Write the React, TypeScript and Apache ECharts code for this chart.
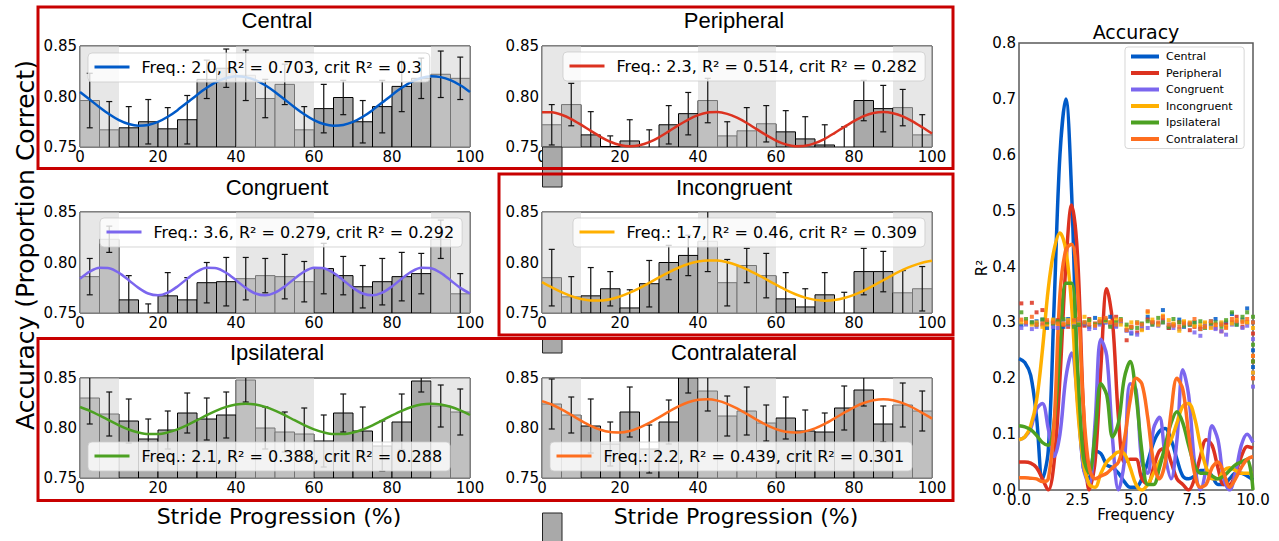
import React, { useEffect, useRef } from "react";
import * as echarts from "echarts";

// ---------- data ----------
const binStarts = [0, 5, 10, 15, 20, 25, 30, 35, 40, 45, 50, 55, 60, 65, 70, 75, 80, 85, 90, 95];
const binWidth = 5;
const shadedSpans = [[0, 10], [40, 60], [90, 100]];
const xTicks = [0, 20, 40, 60, 80, 100];
const yTicks = [0.75, 0.8, 0.85];

const panelTitles = ["Central", "Peripheral", "Congruent", "Incongruent", "Ipsilateral", "Contralateral"];
const fitLabels = [
  "Freq.: 2.0, R² = 0.703, crit R² = 0.3",
  "Freq.: 2.3, R² = 0.514, crit R² = 0.282",
  "Freq.: 3.6, R² = 0.279, crit R² = 0.292",
  "Freq.: 1.7, R² = 0.46, crit R² = 0.309",
  "Freq.: 2.1, R² = 0.388, crit R² = 0.288",
  "Freq.: 2.2, R² = 0.439, crit R² = 0.301",
];
const colors = ["#005ac8", "#dc3220", "#7b66ee", "#ffb000", "#4ca122", "#fe6e1f"];

const centralMean = [0.796, 0.767, 0.769, 0.775, 0.768, 0.777, 0.817, 0.828, 0.821, 0.798, 0.812, 0.767, 0.788, 0.799, 0.775, 0.790, 0.810, 0.818, 0.822, 0.818];
const centralErr = [0.027, 0.028, 0.021, 0.022, 0.021, 0.024, 0.019, 0.019, 0.025, 0.019, 0.020, 0.023, 0.024, 0.017, 0.021, 0.026, 0.025, 0.020, 0.023, 0.021];
const periMean = [0.772, 0.792, 0.762, 0.7505, 0.756, 0.747, 0.772, 0.783, 0.796, 0.761, 0.766, 0.773, 0.765, 0.758, 0.752, 0.749, 0.796, 0.788, 0.789, 0.762];
const periErr = [0.020, 0.021, 0.023, 0.0105, 0.021, 0.020, 0.019, 0.021, 0.022, 0.014, 0.023, 0.018, 0.021, 0.022, 0.020, 0.021, 0.020, 0.023, 0.018, 0.020];
const congMean = [0.786, 0.823, 0.763, 0.747, 0.767, 0.763, 0.780, 0.781, 0.784, 0.787, 0.786, 0.781, 0.794, 0.787, 0.776, 0.781, 0.786, 0.789, 0.823, 0.769];
const congErr = [0.018, 0.013, 0.024, 0.012, 0.023, 0.022, 0.020, 0.024, 0.021, 0.017, 0.022, 0.020, 0.025, 0.019, 0.021, 0.023, 0.024, 0.020, 0.019, 0.020];
const incMean = [0.785, 0.766, 0.767, 0.774, 0.755, 0.779, 0.800, 0.807, 0.821, 0.780, 0.797, 0.787, 0.764, 0.756, 0.768, 0.750, 0.791, 0.791, 0.770, 0.774];
const incErr = [0.028, 0.020, 0.028, 0.017, 0.018, 0.023, 0.017, 0.020, 0.030, 0.023, 0.017, 0.022, 0.026, 0.018, 0.022, 0.0205, 0.023, 0.020, 0.022, 0.022];
const ipsiMean = [0.830, 0.814, 0.807, 0.789, 0.798, 0.815, 0.809, 0.813, 0.848, 0.800, 0.796, 0.794, 0.787, 0.815, 0.797, 0.782, 0.806, 0.847, 0.822, 0.816];
const ipsiErr = [0.026, 0.022, 0.022, 0.020, 0.019, 0.020, 0.021, 0.023, 0.022, 0.021, 0.020, 0.026, 0.026, 0.019, 0.024, 0.025, 0.028, 0.011, 0.021, 0.023];
const contMean = [0.824, 0.813, 0.802, 0.784, 0.816, 0.779, 0.806, 0.852, 0.837, 0.812, 0.817, 0.805, 0.810, 0.797, 0.796, 0.820, 0.838, 0.804, 0.823, 0.817];
const contErr = [0.025, 0.018, 0.027, 0.022, 0.025, 0.024, 0.022, 0.017, 0.020, 0.020, 0.024, 0.018, 0.021, 0.021, 0.019, 0.022, 0.016, 0.018, 0.022, 0.020];

const fitX = [0, 2.5, 5, 7.5, 10, 12.5, 15, 17.5, 20, 22.5, 25, 27.5, 30, 32.5, 35, 37.5, 40, 42.5, 45, 47.5, 50, 52.5, 55, 57.5, 60, 62.5, 65, 67.5, 70, 72.5, 75, 77.5, 80, 82.5, 85, 87.5, 90, 92.5, 95, 97.5, 100];
const centralFit = [0.8045, 0.7970, 0.7894, 0.7824, 0.7766, 0.7727, 0.7710, 0.7718, 0.7748, 0.7799, 0.7865, 0.7940, 0.8016, 0.8086, 0.8144, 0.8183, 0.8200, 0.8192, 0.8162, 0.8111, 0.8045, 0.7970, 0.7894, 0.7824, 0.7766, 0.7727, 0.7710, 0.7718, 0.7748, 0.7799, 0.7865, 0.7940, 0.8016, 0.8086, 0.8144, 0.8183, 0.8200, 0.8192, 0.8162, 0.8111, 0.8045];
const periFit = [0.7845, 0.7843, 0.7819, 0.7777, 0.7721, 0.7660, 0.7601, 0.7552, 0.7519, 0.7507, 0.7517, 0.7548, 0.7596, 0.7655, 0.7716, 0.7772, 0.7816, 0.7842, 0.7846, 0.7828, 0.7790, 0.7738, 0.7677, 0.7617, 0.7564, 0.7526, 0.7508, 0.7512, 0.7538, 0.7581, 0.7638, 0.7699, 0.7757, 0.7806, 0.7837, 0.7847, 0.7835, 0.7803, 0.7754, 0.7695, 0.7633];
const congFit = [0.7840, 0.7909, 0.7947, 0.7943, 0.7897, 0.7825, 0.7749, 0.7693, 0.7675, 0.7701, 0.7763, 0.7840, 0.7909, 0.7947, 0.7943, 0.7897, 0.7825, 0.7749, 0.7693, 0.7675, 0.7701, 0.7763, 0.7840, 0.7909, 0.7947, 0.7943, 0.7897, 0.7825, 0.7749, 0.7693, 0.7675, 0.7701, 0.7763, 0.7840, 0.7909, 0.7947, 0.7943, 0.7897, 0.7825, 0.7749, 0.7693];
const incFit = [0.7805, 0.7753, 0.7706, 0.7667, 0.7639, 0.7624, 0.7623, 0.7637, 0.7663, 0.7701, 0.7747, 0.7799, 0.7852, 0.7903, 0.7948, 0.7985, 0.8010, 0.8021, 0.8019, 0.8002, 0.7973, 0.7933, 0.7885, 0.7833, 0.7780, 0.7729, 0.7686, 0.7652, 0.7630, 0.7622, 0.7628, 0.7648, 0.7680, 0.7722, 0.7771, 0.7824, 0.7877, 0.7926, 0.7967, 0.7998, 0.8017];
const ipsiFit = [0.8210, 0.8172, 0.8126, 0.8076, 0.8027, 0.7985, 0.7955, 0.7939, 0.7939, 0.7956, 0.7987, 0.8029, 0.8078, 0.8128, 0.8174, 0.8211, 0.8235, 0.8243, 0.8235, 0.8211, 0.8174, 0.8128, 0.8078, 0.8029, 0.7987, 0.7956, 0.7939, 0.7939, 0.7955, 0.7985, 0.8027, 0.8076, 0.8126, 0.8172, 0.8210, 0.8234, 0.8243, 0.8235, 0.8212, 0.8176, 0.8130];
const contFit = [0.8269, 0.8235, 0.8187, 0.8131, 0.8074, 0.8022, 0.7982, 0.7959, 0.7955, 0.7970, 0.8004, 0.8051, 0.8106, 0.8163, 0.8216, 0.8257, 0.8282, 0.8288, 0.8274, 0.8242, 0.8196, 0.8141, 0.8084, 0.8031, 0.7989, 0.7962, 0.7954, 0.7966, 0.7996, 0.8041, 0.8096, 0.8153, 0.8207, 0.8250, 0.8278, 0.8288, 0.8278, 0.8249, 0.8205, 0.8151, 0.8094];

// right panel: R² spectrum vs frequency
const specFreq = [0, 0.25, 0.5, 0.75, 1, 1.25, 1.5, 1.75, 2, 2.25, 2.5, 2.75, 3, 3.25, 3.5, 3.75, 4, 4.25, 4.5, 4.75, 5, 5.25, 5.5, 5.75, 6, 6.25, 6.5, 6.75, 7, 7.25, 7.5, 7.75, 8, 8.25, 8.5, 8.75, 9, 9.25, 9.5, 9.75, 10];
const specCentral = [0.235, 0.228, 0.205, 0.13, 0.02, 0.07, 0.33, 0.60, 0.70, 0.53, 0.20, 0.04, 0.02, 0.07, 0.065, 0.045, 0.04, 0.03, 0.015, 0.005, 0.005, 0.02, 0.05, 0.085, 0.105, 0.11, 0.09, 0.055, 0.025, 0.02, 0.025, 0.035, 0.035, 0.025, 0.01, 0.01, 0.02, 0.03, 0.03, 0.025, 0.018];
const specPeripheral = [0.05, 0.05, 0.048, 0.04, 0.02, 0.0, 0.05, 0.2, 0.4, 0.51, 0.42, 0.15, 0.0, 0.05, 0.22, 0.36, 0.30, 0.13, 0.05, 0.055, 0.055, 0.02, 0.01, 0.04, 0.07, 0.075, 0.05, 0.02, 0.01, 0.0, 0.02, 0.06, 0.09, 0.08, 0.04, 0.01, 0.01, 0.03, 0.06, 0.078, 0.075];
const specCongruent = [0.09, 0.095, 0.11, 0.145, 0.155, 0.11, 0.06, 0.10, 0.20, 0.245, 0.16, 0.04, 0.01, 0.12, 0.27, 0.24, 0.09, 0.0, 0.05, 0.19, 0.18, 0.05, 0.03, 0.11, 0.13, 0.06, 0.02, 0.09, 0.215, 0.17, 0.05, 0.0, 0.04, 0.115, 0.09, 0.02, 0.0, 0.03, 0.08, 0.1, 0.085];
const specIncongruent = [0.09, 0.095, 0.115, 0.16, 0.25, 0.36, 0.43, 0.46, 0.43, 0.33, 0.15, 0.05, 0.01, 0.005, 0.03, 0.05, 0.06, 0.068, 0.065, 0.04, 0.01, 0.0, 0.01, 0.03, 0.05, 0.07, 0.09, 0.12, 0.15, 0.155, 0.13, 0.08, 0.04, 0.02, 0.02, 0.035, 0.04, 0.035, 0.03, 0.03, 0.03];
const specIpsilateral = [0.115, 0.113, 0.108, 0.098, 0.085, 0.08, 0.12, 0.25, 0.37, 0.37, 0.22, 0.06, 0.03, 0.10, 0.19, 0.17, 0.095, 0.12, 0.20, 0.23, 0.17, 0.07, 0.01, 0.01, 0.04, 0.08, 0.12, 0.14, 0.12, 0.08, 0.045, 0.03, 0.03, 0.025, 0.02, 0.025, 0.035, 0.045, 0.05, 0.055, 0.0];
const specContralateral = [0.022, 0.022, 0.021, 0.02, 0.015, 0.02, 0.12, 0.35, 0.43, 0.44, 0.36, 0.15, 0.04, 0.02, 0.025, 0.03, 0.04, 0.05, 0.09, 0.16, 0.2, 0.19, 0.13, 0.05, 0.02, 0.05, 0.14, 0.2, 0.18, 0.1, 0.03, 0.005, 0.01, 0.04, 0.05, 0.03, 0.005, 0.02, 0.04, 0.055, 0.06];

// critical R² (permutation) dots
const critFreq = [0.1, 0.55, 1.0, 1.45, 1.9, 2.35, 2.8, 3.25, 3.7, 4.15, 4.6, 5.05, 5.5, 5.95, 6.4, 6.85, 7.3, 7.75, 8.2, 8.65, 9.1, 9.55];
const critFreq2 = [0.3, 0.75, 1.2, 1.65, 2.1, 2.55, 3.0, 3.45, 3.9, 4.35, 4.8, 5.25, 5.7, 6.15, 6.6, 7.05, 7.5, 7.95, 8.4, 8.85, 9.3, 9.75];
const critCentral = [0.295, 0.300, 0.305, 0.298, 0.292, 0.302, 0.296, 0.308, 0.300, 0.294, 0.286, 0.300, 0.310, 0.298, 0.290, 0.305, 0.296, 0.288, 0.302, 0.298, 0.315, 0.305];
const critPeripheral = [0.334, 0.335, 0.322, 0.302, 0.296, 0.300, 0.294, 0.298, 0.305, 0.310, 0.268, 0.282, 0.305, 0.296, 0.290, 0.300, 0.286, 0.292, 0.298, 0.284, 0.300, 0.292];
const critCongruent = [0.290, 0.288, 0.296, 0.292, 0.302, 0.295, 0.298, 0.290, 0.300, 0.292, 0.285, 0.278, 0.290, 0.294, 0.296, 0.288, 0.298, 0.276, 0.292, 0.284, 0.296, 0.290];
const critIncongruent = [0.300, 0.296, 0.292, 0.305, 0.298, 0.300, 0.310, 0.296, 0.302, 0.305, 0.292, 0.300, 0.318, 0.296, 0.304, 0.285, 0.300, 0.296, 0.290, 0.300, 0.298, 0.302];
const critIpsilateral = [0.318, 0.300, 0.305, 0.298, 0.306, 0.292, 0.300, 0.296, 0.304, 0.300, 0.296, 0.290, 0.302, 0.308, 0.292, 0.300, 0.296, 0.302, 0.298, 0.292, 0.318, 0.310];
const critContralateral = [0.305, 0.310, 0.298, 0.300, 0.296, 0.304, 0.300, 0.294, 0.308, 0.296, 0.286, 0.298, 0.320, 0.300, 0.296, 0.292, 0.298, 0.288, 0.302, 0.296, 0.306, 0.300];
const critCentral2 = [0.298, 0.302, 0.290, 0.300, 0.306, 0.296, 0.292, 0.300, 0.310, 0.302, 0.280, 0.296, 0.300, 0.322, 0.296, 0.292, 0.300, 0.294, 0.306, 0.300, 0.296, 0.325];
const critPeripheral2 = [0.300, 0.318, 0.298, 0.304, 0.292, 0.300, 0.306, 0.300, 0.296, 0.302, 0.292, 0.288, 0.300, 0.305, 0.296, 0.300, 0.292, 0.298, 0.290, 0.296, 0.310, 0.300];
const critCongruent2 = [0.296, 0.292, 0.300, 0.290, 0.296, 0.302, 0.288, 0.296, 0.294, 0.300, 0.282, 0.290, 0.296, 0.300, 0.290, 0.294, 0.282, 0.296, 0.288, 0.278, 0.300, 0.294];
const critIncongruent2 = [0.302, 0.300, 0.296, 0.298, 0.304, 0.298, 0.302, 0.306, 0.300, 0.296, 0.300, 0.286, 0.305, 0.312, 0.298, 0.302, 0.294, 0.300, 0.296, 0.292, 0.304, 0.300];
const critIpsilateral2 = [0.306, 0.296, 0.300, 0.302, 0.298, 0.296, 0.304, 0.300, 0.292, 0.306, 0.290, 0.298, 0.296, 0.300, 0.306, 0.294, 0.300, 0.290, 0.300, 0.304, 0.296, 0.318];
const critContralateral2 = [0.300, 0.296, 0.304, 0.298, 0.300, 0.306, 0.296, 0.302, 0.300, 0.304, 0.292, 0.296, 0.300, 0.310, 0.294, 0.298, 0.306, 0.292, 0.296, 0.290, 0.302, 0.306];
const critEndFreq = 10;
const critEndCentral = [0.30, 0.25, 0.22];
const critEndPeripheral = [0.28, 0.23, 0.20];
const critEndCongruent = [0.27, 0.21, 0.185];
const critEndIncongruent = [0.29, 0.24, 0.21];
const critEndIpsilateral = [0.31, 0.26, 0.23];
const critEndContralateral = [0.30, 0.24, 0.20];

const means = [centralMean, periMean, congMean, incMean, ipsiMean, contMean];
const errs = [centralErr, periErr, congErr, incErr, ipsiErr, contErr];
const fits = [centralFit, periFit, congFit, incFit, ipsiFit, contFit];
const specs = [specCentral, specPeripheral, specCongruent, specIncongruent, specIpsilateral, specContralateral];
const crits = [critCentral, critPeripheral, critCongruent, critIncongruent, critIpsilateral, critContralateral];
const crits2 = [critCentral2, critPeripheral2, critCongruent2, critIncongruent2, critIpsilateral2, critContralateral2];
const critEnds = [critEndCentral, critEndPeripheral, critEndCongruent, critEndIncongruent, critEndIpsilateral, critEndContralateral];

// ---------- layout ----------
const FONT = "DejaVu Sans";
const TFONT = "Liberation Sans";
const grids = [
  { left: 80, top: 46, width: 390, height: 101 },
  { left: 542, top: 46, width: 390, height: 101 },
  { left: 80, top: 212, width: 390, height: 101 },
  { left: 542, top: 212, width: 390, height: 101 },
  { left: 80, top: 378, width: 390, height: 100 },
  { left: 542, top: 378, width: 390, height: 100 },
];
const legendPos = [[88, 53], [563, 52], [100, 218], [573, 218], [88, 442], [550, 442]];
const titlePos = [[277, 20.5], [734, 20.5], [277, 187], [734, 187.5], [277, 352], [734, 352]];

function buildOption() {
  const yMin = yTicks[0];
  const yMax = yTicks[yTicks.length - 1];
  const xAxes: any[] = [];
  const yAxes: any[] = [];
  const gridOpts: any[] = [];
  const series: any[] = [];
  const legends: any[] = [];

  panelTitles.forEach((t, i) => {
    gridOpts.push({ ...grids[i], show: true, borderColor: "#000", borderWidth: 1, backgroundColor: "transparent" });
    xAxes.push({
      gridIndex: i, type: "value", min: xTicks[0], max: xTicks[xTicks.length - 1], interval: 20,
      axisLine: { show: false }, axisTick: { show: false }, splitLine: { show: false },
      axisLabel: { fontFamily: FONT, fontSize: 15, color: "#000", margin: 2, showMinLabel: true, showMaxLabel: true },
    });
    yAxes.push({
      gridIndex: i, type: "value", min: yMin, max: yMax, interval: 0.05,
      axisLine: { show: false }, axisTick: { show: false }, splitLine: { show: false },
      axisLabel: { fontFamily: FONT, fontSize: 15, color: "#000", margin: 3, showMinLabel: true, showMaxLabel: true, formatter: (v: number) => v.toFixed(2) },
    });
    // bars
    series.push({
      type: "custom", xAxisIndex: i, yAxisIndex: i, z: 2, silent: true, clip: true,
      data: binStarts.map((b, j) => [b, means[i][j]]),
      encode: { x: 0, y: 1 },
      renderItem: (params: any, api: any) => {
        const x0 = api.value(0);
        const v = api.value(1);
        const p0 = api.coord([x0, v]);
        const p1 = api.coord([x0 + binWidth, yMin]);
        const rect = echarts.graphic.clipRectByRect(
          { x: p0[0], y: Math.min(p0[1], p1[1]), width: p1[0] - p0[0], height: Math.abs(p1[1] - p0[1]) },
          params.coordSys
        );
        if (!rect || rect.height <= 0) return null;
        return { type: "rect", shape: rect, style: { fill: "#a9a9a9", stroke: "#000", lineWidth: 1 } };
      },
    });
    // shaded spans
    series.push({
      type: "custom", xAxisIndex: i, yAxisIndex: i, z: 3, silent: true,
      data: shadedSpans,
      encode: { x: [0, 1] },
      renderItem: (params: any, api: any) => {
        const a = api.coord([api.value(0), yMax]);
        const b = api.coord([api.value(1), yMax]);
        const cs = params.coordSys;
        return { type: "rect", shape: { x: a[0], y: cs.y, width: b[0] - a[0], height: cs.height }, style: { fill: "rgba(211,211,211,0.55)" } };
      },
    });
    // error bars
    series.push({
      type: "custom", xAxisIndex: i, yAxisIndex: i, z: 4, silent: true, clip: true,
      data: binStarts.map((b, j) => [b + binWidth / 2, means[i][j], errs[i][j]]),
      encode: { x: 0, y: 1 },
      renderItem: (params: any, api: any) => {
        const x = api.value(0), v = api.value(1), e = api.value(2);
        const top = api.coord([x, v + e]);
        const bot = api.coord([x, v - e]);
        const st = { stroke: "#111", lineWidth: 1.2 };
        return {
          type: "group",
          children: [
            { type: "line", shape: { x1: top[0], y1: top[1], x2: bot[0], y2: bot[1] }, style: st },
            { type: "line", shape: { x1: top[0] - 3, y1: top[1], x2: top[0] + 3, y2: top[1] }, style: st },
            { type: "line", shape: { x1: bot[0] - 3, y1: bot[1], x2: bot[0] + 3, y2: bot[1] }, style: st },
          ],
        };
      },
    });
    // sine fit
    series.push({
      type: "line", name: fitLabels[i], xAxisIndex: i, yAxisIndex: i, z: 5, silent: true,
      data: fitX.map((x, j) => [x, fits[i][j]]),
      smooth: 0.3, symbol: "none", showSymbol: false,
      lineStyle: { color: colors[i], width: 2.5 }, itemStyle: { color: colors[i] },
    });
    legends.push({
      left: legendPos[i][0], top: legendPos[i][1], orient: "horizontal",
      data: [fitLabels[i]], selectedMode: false, z: 10,
      itemWidth: 35, itemHeight: 14, padding: [6, 8, 7, 5],
      backgroundColor: "rgba(255,255,255,0.8)", borderColor: "rgba(204,204,204,0.8)", borderWidth: 1, borderRadius: 4,
      lineStyle: { width: 3 },
      itemStyle: { opacity: 0, borderWidth: 0 },
      textStyle: { fontFamily: FONT, fontSize: 16, color: "#000", padding: [0, 0, 0, 7] },
    });
  });

  // right panel
  const ri = 6;
  gridOpts.push({ left: 1019, top: 43, width: 234, height: 447, show: true, borderColor: "#595959", borderWidth: 1.5, backgroundColor: "transparent" });
  xAxes.push({
    gridIndex: ri, type: "value", min: 0, max: 10, interval: 2.5,
    axisLine: { show: false }, axisTick: { show: false }, splitLine: { show: false },
    axisLabel: { fontFamily: FONT, fontSize: 15, color: "#000", margin: 2, showMinLabel: true, showMaxLabel: true, formatter: (v: number) => v.toFixed(1) },
  });
  yAxes.push({
    gridIndex: ri, type: "value", min: 0, max: 0.8, interval: 0.1,
    axisLine: { show: false }, axisTick: { show: false }, splitLine: { show: false },
    axisLabel: { fontFamily: FONT, fontSize: 15, color: "#000", margin: 3, showMinLabel: true, showMaxLabel: true, formatter: (v: number) => v.toFixed(1) },
  });
  panelTitles.forEach((t, k) => {
    series.push({
      type: "line", name: t, xAxisIndex: ri, yAxisIndex: ri, z: 3 + k * 0.01, silent: true,
      data: specFreq.map((f, j) => [f, specs[k][j]]),
      smooth: 0.35, symbol: "none", showSymbol: false,
      lineStyle: { color: colors[k], width: 3.5 }, itemStyle: { color: colors[k] },
    });
  });
  panelTitles.forEach((t, k) => {
    const pts = critFreq.map((f, j) => [f, crits[k][j]])
      .concat(critFreq2.map((f, j) => [f, crits2[k][j]]))
      .concat(critEnds[k].map((v) => [critEndFreq, v]));
    series.push({
      type: "scatter", name: t + " crit", xAxisIndex: ri, yAxisIndex: ri, z: 4, silent: true,
      data: pts, symbol: "rect", symbolSize: 4,
      itemStyle: { color: colors[k], opacity: 0.85 },
    });
  });
  legends.push({
    left: 1125, top: 47, orient: "vertical", data: panelTitles, selectedMode: false, z: 10,
    itemWidth: 28, itemHeight: 12, itemGap: 5.5, padding: [4, 6, 4, 4],
    backgroundColor: "rgba(255,255,255,0.8)", borderColor: "rgba(204,204,204,0.8)", borderWidth: 1, borderRadius: 3,
    lineStyle: { width: 4 },
    itemStyle: { opacity: 0, borderWidth: 0 },
    textStyle: { fontFamily: FONT, fontSize: 11, color: "#000", padding: [0, 0, 0, 2] },
  });

  const txt = (text: string, x: number, y: number, size: number, family: string, rotation = 0) => ({
    type: "text", x, y, rotation, z: 20, silent: true,
    style: { text, fontSize: size, fontFamily: family, fill: "#000", textAlign: "center", textVerticalAlign: "middle" },
  });
  const graphic: any[] = [];
  panelTitles.forEach((t, i) => graphic.push(txt(t, titlePos[i][0], titlePos[i][1], 22, TFONT)));
  graphic.push(txt("Stride Progression (%)", 279, 516, 22, FONT));
  graphic.push(txt("Stride Progression (%)", 736, 516, 22, FONT));
  graphic.push(txt("Accuracy (Proportion Correct)", 25, 245, 25, FONT, Math.PI / 2));
  graphic.push(txt("Accuracy", 1136, 32, 19, FONT));
  graphic.push(txt("Frequency", 1136, 515, 15, FONT));
  graphic.push(txt("R²", 982, 268, 15, FONT, Math.PI / 2));
  // stray gray patches between the columns
  const patch = (y: number, h: number) => ({
    type: "rect", z: 30, silent: true, shape: { x: 542.5, y, width: 19.5, height: h },
    style: { fill: "#a9a9a9", stroke: "#222", lineWidth: 1 },
  });
  graphic.push(patch(147, 40), patch(339, 14), patch(513, 30));
  // red highlight boxes
  const box = (x: number, y: number, w: number, h: number) => ({
    type: "rect", z: 40, silent: true, shape: { x, y, width: w, height: h },
    style: { fill: "none", stroke: "#c80000", lineWidth: 3 },
  });
  graphic.push(box(38, 7, 915, 161.5), box(499, 174, 454, 161), box(38, 338.5, 915, 162));

  return {
    animation: false,
    backgroundColor: "#fff",
    grid: gridOpts,
    xAxis: xAxes,
    yAxis: yAxes,
    legend: legends,
    series,
    graphic,
  };
}

export default function App() {
  const ref = useRef<HTMLDivElement>(null);
  useEffect(() => {
    if (!ref.current) return;
    const chart = echarts.init(ref.current, null, { renderer: "svg" });
    chart.setOption(buildOption() as any);
    return () => chart.dispose();
  }, []);
  return <div ref={ref} style={{ position: "absolute", left: 0, top: 0, width: 1279, height: 541, background: "#fff" }} />;
}
